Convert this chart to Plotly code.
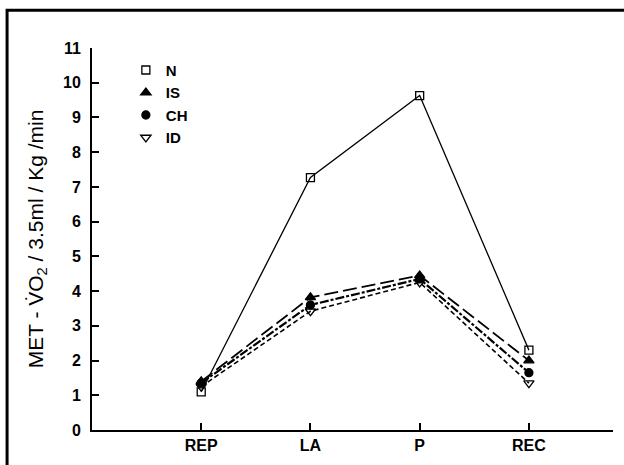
import plotly.graph_objects as go

categories = ["REP", "LA", "P", "REC"]
series_names = ["N", "IS", "CH", "ID"]
n_vals = [1.1, 7.27, 9.63, 2.3]
is_vals = [1.4, 3.82, 4.45, 2.0]
ch_vals = [1.35, 3.6, 4.35, 1.65]
id_vals = [1.25, 3.42, 4.25, 1.35]
y_ticks = list(range(0, 12))

xs = list(range(len(categories)))
styles = [
    dict(dash="solid", width=1.3, symbol="square-open", size=8),
    dict(dash="14px,5px", width=1.8, symbol="triangle-up", size=9),
    dict(dash="9px,2px,3px,2px", width=2.2, symbol="circle", size=8),
    dict(dash="5px,3px", width=1.6, symbol="triangle-down-open", size=9),
]
all_vals = [n_vals, is_vals, ch_vals, id_vals]

fig = go.Figure()
for name, vals, st in zip(series_names, all_vals, styles):
    fig.add_trace(go.Scatter(
        x=xs, y=vals, mode="lines+markers", name=name, showlegend=False,
        line=dict(color="black", width=st["width"], dash=st["dash"]),
        marker=dict(symbol=st["symbol"], size=st["size"], color="black",
                    line=dict(color="black", width=1.3)),
    ))
for name, st in zip(series_names, styles):
    fig.add_trace(go.Scatter(
        x=[None], y=[None], mode="markers", name=name, showlegend=True,
        marker=dict(symbol=st["symbol"], size=st["size"], color="black",
                    line=dict(color="black", width=1.3)),
    ))

font = "Liberation Sans, Arial, sans-serif"
fig.update_layout(
    width=624, height=465,
    margin=dict(l=92, r=11, t=48, b=35),
    paper_bgcolor="white", plot_bgcolor="white",
    font=dict(family=font, color="black", size=15),
    legend=dict(x=0.065, y=0.985, xanchor="left", yanchor="top",
                bgcolor="rgba(0,0,0,0)", tracegroupgap=0,
                font=dict(family=font, size=15, color="black", weight="bold"),
                itemwidth=30),
    xaxis=dict(
        range=[-1.0, 3.77], tickmode="array", tickvals=xs, ticktext=categories,
        showgrid=False, zeroline=False, showline=True, linecolor="black", linewidth=2,
        ticks="inside", ticklen=7, tickcolor="black", tickwidth=1.5,
        tickfont=dict(family=font, size=16, color="black", weight="bold"),
    ),
    yaxis=dict(
        range=[0, 11], tickmode="array", tickvals=y_ticks,
        showgrid=False, zeroline=False, showline=True, linecolor="black", linewidth=2,
        ticks="inside", ticklen=7, tickcolor="black", tickwidth=1.5,
        ticklabelstandoff=6,
        tickfont=dict(family=font, size=16, color="black", weight="bold"),
        title=dict(text="MET - V̇O<sub>2</sub> / 3.5ml / Kg /min",
                   font=dict(family=font, size=21, color="black"), standoff=14),
    ),
    shapes=[dict(type="rect", xref="paper", yref="paper",
                 x0=-0.163, x1=1.12, y0=-0.15, y1=1.099,
                 line=dict(color="black", width=3), layer="below")],
)
fig.write_html("out.html")
